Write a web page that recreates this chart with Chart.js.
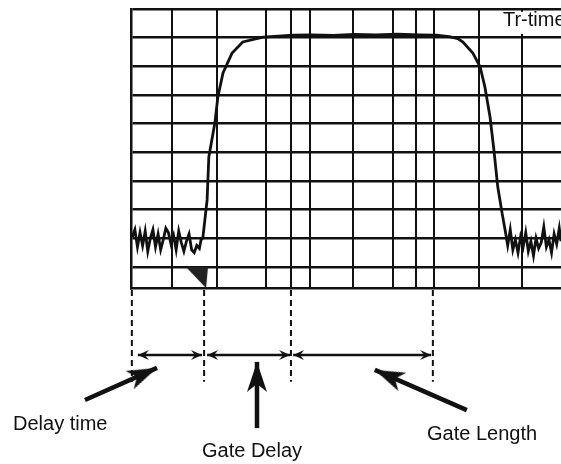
<!DOCTYPE html>
<html>
<head>
<meta charset="utf-8">
<script src="https://cdn.jsdelivr.net/npm/chart.js@4.4.0/dist/chart.umd.min.js"></script>
<style>
  html, body { margin: 0; padding: 0; background: #fff; }
  #wrap { position: relative; width: 561px; height: 464px; }
  #wrap canvas { position: absolute; left: 0; top: 0; }
</style>
</head>
<body>
<div id="wrap">
  <canvas id="scope" width="561" height="464"></canvas>
  <canvas id="notes" width="561" height="464"></canvas>
</div>
<script>
// time axis 0..100 across the screen, amplitude in grid divisions
const gridX = [9.53, 20.0, 31.4, 37.2, 41.6, 51.6, 60.9, 66.3, 70.5, 80.9, 90.9];
const gridY = [0, 1, 2, 3, 4, 5, 6, 7, 8, 9];

const traceX = [
  0.3, 0.9, 1.5, 2.1, 2.7, 3.3, 3.9, 4.5, 5.1, 5.7, 6.3, 6.9, 7.5, 8.1, 8.7, 9.3, 9.9, 10.5, 11.1, 11.7,
  12.3, 12.9, 13.5, 14.1, 14.7, 15.3, 15.9, 16.3,
  16.7, 17.7, 18.1, 18.8, 19.5, 20.2, 21.4, 23.5, 26.0, 30.7, 37.7,
  42, 47, 52, 57, 62, 67, 71, 74, 76,
  77.2, 79.5, 81.2, 82.3, 83.5, 84.4, 85.3, 86.3, 87.0,
  87.6, 88.2, 88.8, 89.4, 90.0, 90.6, 91.2, 91.8, 92.4, 93.0, 93.6, 94.2, 94.8, 95.4, 96.0, 96.6,
  97.2, 97.8, 98.4, 99.0, 99.6, 100
];
const traceY = [
  1.05, 1.3, 0.7, 1.2, 0.75, 1.25, 0.55, 1.0, 1.3, 0.7, 1.15, 0.6, 0.95, 1.35, 1.2, 0.8, 1.1, 0.6, 1.25, 0.85,
  0.55, 0.9, 1.15, 0.6, 0.5, 0.75, 0.65, 0.95,
  1.01, 2.34, 3.84, 4.43, 5.02, 5.93, 6.77, 7.46, 7.85, 8.02, 8.09,
  8.1, 8.08, 8.11, 8.1, 8.12, 8.1, 8.09, 8.04, 7.97,
  7.85, 7.46, 6.98, 6.28, 5.23, 4.08, 2.79, 1.88, 1.29,
  0.75, 1.3, 0.6, 0.95, 0.5, 1.05, 0.7, 1.2, 0.55, 0.9, 0.4, 1.0, 0.65, 0.85, 1.4, 0.7,
  0.95, 0.5, 1.15, 0.8, 1.35, 0.9
];

// gate start marker
const markerX = 15.35;
const markerY = -0.37;

// annotation below the screen, same units
const dashX = [0.2, 17.0, 37.2, 70.2];
const dashTop = -0.8;
const dashBottom = -4.0;

const spanY = -3.07;
const spanFrom = [1.6, 17.7, 37.7];
const spanTo = [16.5, 37.0, 69.8];

const pointerFromX = [-10.7, 29.3, 78.1];
const pointerFromY = [-4.64, -5.62, -4.99];
const pointerToX = [6.05, 29.3, 56.7];
const pointerToY = [-3.52, -3.31, -3.59];
const pointerAngle = [66, 0, -66.5];

const labels = ['Delay time', 'Gate Delay', 'Gate Length', 'Tr-time'];
const labelX = [-27.44, 28.14, 68.84, 86.5];
const labelY = [-5.48, -6.42, -5.83, 8.615];
const labelAlign = ['left', 'center', 'left', 'left'];

const INK = '#111';
const FONT = '20px "Liberation Sans", Arial, sans-serif';

// arrow head drawn with its tip at the canvas centre, pointing up
function arrowHead(len, wid, notch) {
  const c = document.createElement('canvas');
  c.width = wid;
  c.height = len * 2;
  const g = c.getContext('2d');
  g.fillStyle = INK;
  g.beginPath();
  g.moveTo(wid / 2, len);
  g.lineTo(wid, 2 * len);
  g.lineTo(wid / 2, 2 * len - notch);
  g.lineTo(0, 2 * len);
  g.closePath();
  g.fill();
  return c;
}

function markerShape() {
  const c = document.createElement('canvas');
  c.width = 24;
  c.height = 23;
  const g = c.getContext('2d');
  g.fillStyle = '#222';
  g.beginPath();
  g.moveTo(1, 1);
  g.lineTo(23, 1);
  g.lineTo(21, 22);
  g.closePath();
  g.fill();
  return c;
}

const bigHead = arrowHead(30, 20, 8);
const smallHead = arrowHead(11, 10, 4);

new Chart(document.getElementById('scope'), {
  type: 'scatter',
  data: {
    datasets: [
      {
        data: traceX.map((x, i) => ({ x: x, y: traceY[i] })),
        showLine: true,
        borderColor: INK,
        borderWidth: 2.8,
        pointRadius: 0,
        tension: 0
      },
      {
        data: [{ x: markerX, y: markerY }],
        pointStyle: markerShape(),
        pointRadius: 10
      }
    ]
  },
  options: {
    responsive: false,
    animation: false,
    layout: { autoPadding: false, padding: { left: 131, top: 9, right: 0, bottom: 176 } },
    plugins: { legend: { display: false }, tooltip: { enabled: false } },
    scales: {
      x: {
        type: 'linear',
        min: 0,
        max: 100,
        afterBuildTicks: (s) => { s.ticks = gridX.map(v => ({ value: v })); },
        ticks: { display: false },
        grid: { color: INK, lineWidth: 2, drawTicks: false },
        border: { color: INK, width: 2.5 }
      },
      y: {
        min: -0.7325,
        max: 9,
        afterBuildTicks: (s) => { s.ticks = gridY.map(v => ({ value: v })); },
        ticks: { display: false },
        grid: { color: INK, lineWidth: 2.6, drawTicks: false },
        border: { color: INK, width: 2.5 }
      }
    }
  }
});

const notesText = {
  id: 'notesText',
  afterDatasetsDraw(chart) {
    const { ctx, scales: { x, y } } = chart;
    ctx.save();
    // Tr-time sits on a white patch over the grid
    ctx.fillStyle = '#fff';
    ctx.fillRect(x.getPixelForValue(85.7), y.getPixelForValue(8.9), 70, 22);
    ctx.font = FONT;
    ctx.fillStyle = INK;
    ctx.textBaseline = 'middle';
    labels.forEach((t, i) => {
      ctx.textAlign = labelAlign[i];
      ctx.fillText(t, x.getPixelForValue(labelX[i]), y.getPixelForValue(labelY[i]));
    });
    ctx.restore();
  }
};

const noteSets = [];
dashX.forEach(v => {
  noteSets.push({
    data: [{ x: v, y: dashTop }, { x: v, y: dashBottom }],
    showLine: true,
    borderColor: INK,
    borderWidth: 2,
    borderDash: [6, 4],
    pointRadius: 0
  });
});
spanFrom.forEach((v, i) => {
  noteSets.push({
    data: [{ x: v, y: spanY }, { x: spanTo[i], y: spanY }],
    showLine: true,
    borderColor: INK,
    borderWidth: 2.4,
    pointStyle: smallHead,
    pointRadius: 5,
    pointRotation: [270, 90]
  });
});
pointerFromX.forEach((v, i) => {
  noteSets.push({
    data: [{ x: v, y: pointerFromY[i] }, { x: pointerToX[i], y: pointerToY[i] }],
    showLine: true,
    borderColor: INK,
    borderWidth: 4.5,
    pointStyle: [false, bigHead],
    pointRadius: [0, 10],
    pointRotation: [0, pointerAngle[i]]
  });
});

new Chart(document.getElementById('notes'), {
  type: 'scatter',
  data: { datasets: noteSets },
  options: {
    responsive: false,
    animation: false,
    layout: { autoPadding: false, padding: 0 },
    plugins: { legend: { display: false }, tooltip: { enabled: false } },
    scales: {
      x: { display: false, min: -30.465, max: 100 },
      y: { display: false, min: -6.8713, max: 9.3129 }
    }
  },
  plugins: [notesText]
});
</script>
</body>
</html>
